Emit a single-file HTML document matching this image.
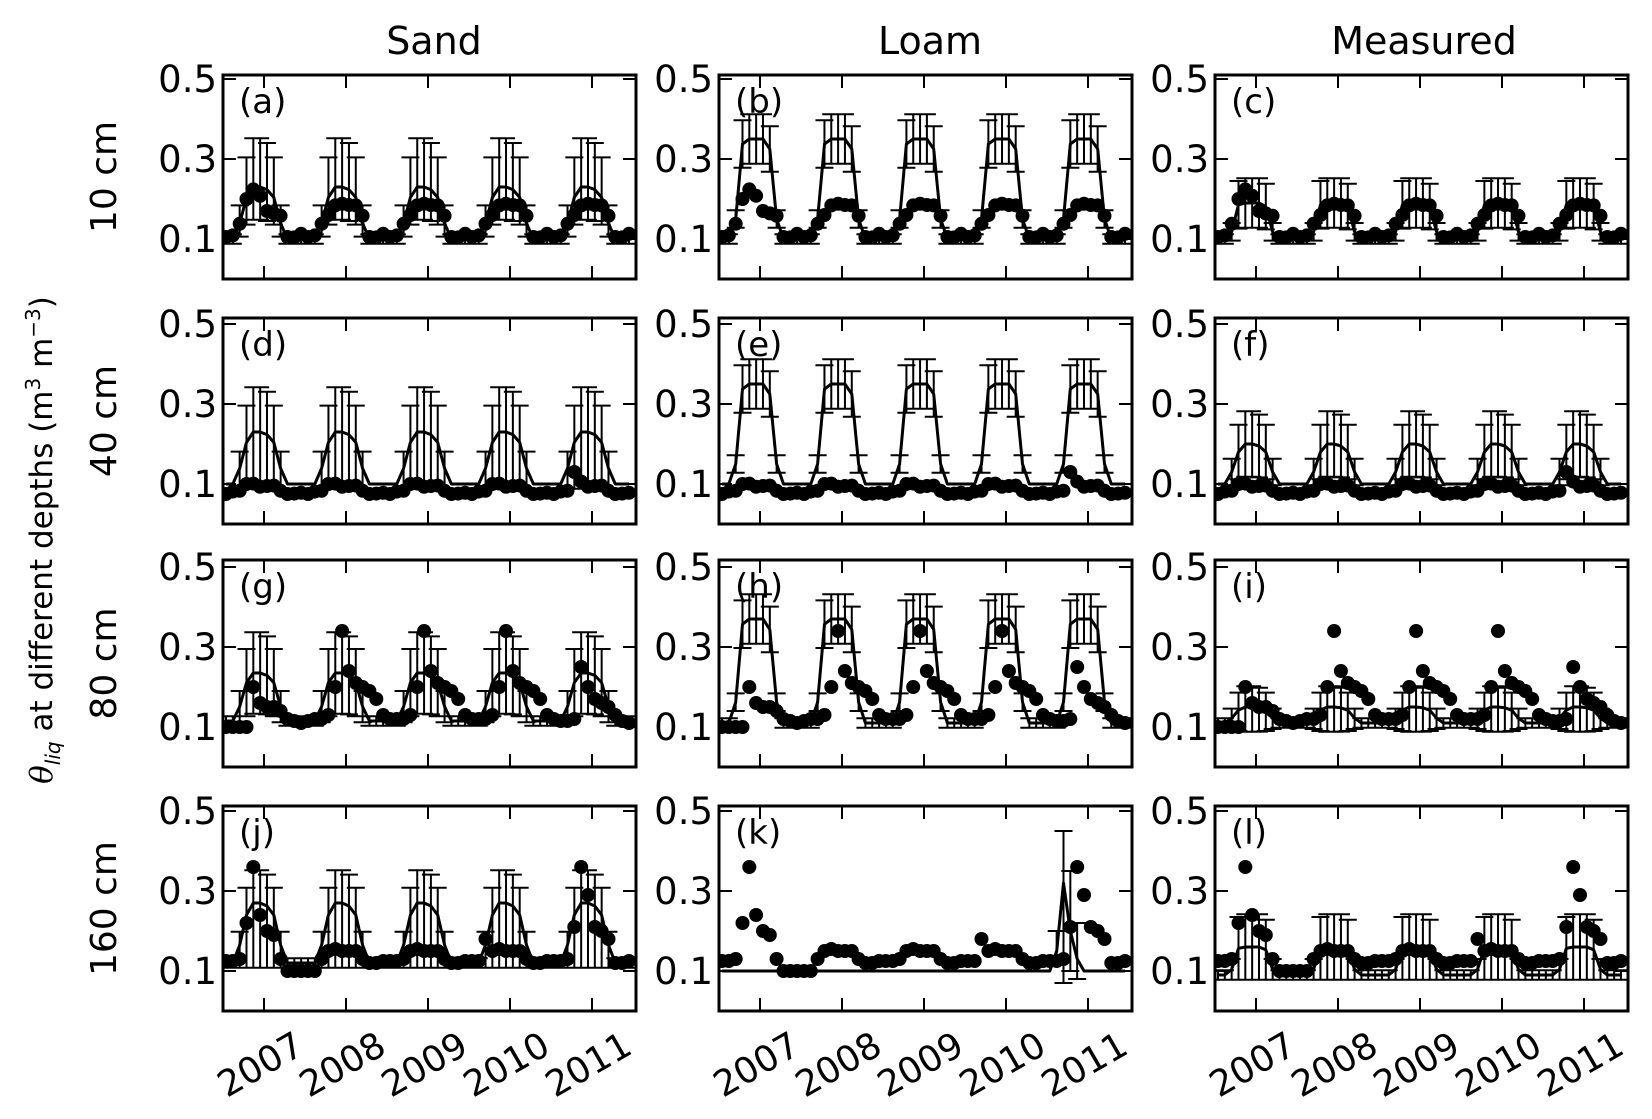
<!DOCTYPE html>
<html><head><meta charset="utf-8"><style>html,body{margin:0;padding:0;background:#fff}svg{display:block}text{font-family:"DejaVu Sans","Liberation Sans",sans-serif;fill:#000}</style></head>
<body>
<svg id="s" width="1652" height="1119" xmlns="http://www.w3.org/2000/svg"></svg>
<script>
const S=document.getElementById('s');let h='';
const cols=[223,719,1215],W=413;
const rows=[[75,279],[318,524],[560,767],[806,1011]];
const PX=400;
h+='<text x="434" y="54" font-size="38" text-anchor="middle">Sand</text>';
h+='<text x="930" y="54" font-size="38" text-anchor="middle">Loam</text>';
h+='<text x="1424" y="54" font-size="38" text-anchor="middle">Measured</text>';
const rl=['10 cm','40 cm','80 cm','160 cm'];
rows.forEach((r,i)=>{const cy=(r[0]+r[1])/2;h+=`<text transform="translate(116,${cy}) rotate(-90)" font-size="36" text-anchor="middle">${rl[i]}</text>`;});
h+=`<text transform="translate(52,540) rotate(-90)" font-size="31" text-anchor="middle"><tspan font-style="italic" font-family="DejaVu Serif,serif">θ</tspan><tspan font-size="20" dy="8" font-style="italic">liq</tspan><tspan dy="-8"> at different depths (m</tspan><tspan font-size="20" dy="-12">3</tspan><tspan dy="12"> m</tspan><tspan font-size="20" dy="-12">−3</tspan><tspan dy="12">)</tspan></text>`;
function hump(p){return [0,0,0.3,0.8,1,1,0.95,0.8,0.3,0,0,0][p];}
function plat(p){return [0,0,0.2,0.95,1,1,1,0.9,0.2,0,0,0][p];}
function circ(row,m){const p=m%12,y=Math.floor(m/12);
 if(row==0){const w=[.105,.105,.13,.16,.18,.18,.185,.18,.15,.105,.1,.105][p];let v=w;if(y==0&&p>=3&&p<=7)v=[.2,.22,.2,.17,.16][p-3];return v+((m*7)%3)*0.004;}
 if(row==1){let v=[.075,.075,.08,.1,.095,.09,.095,.09,.08,.075,.07,.075][p];if(y==4&&p==3)v=.13;if(y==4&&p==4)v=.1;return v+((m*5)%3)*0.003;}
 if(row==2){const mm=m-1;if(mm<0)return .1;const q=mm%12,yy=Math.floor(mm/12);
  let v=[.115,.115,.12,.2,.16,.15,.15,.14,.12,.115,.11,.115][q];if(yy>=1&&yy<=3){v=[.12,.12,.13,.2,.34,.24,.21,.2,.19,.17,.13,.12][q];}if(yy==0&&q<3)v=.1;if(yy==4&&q>=3&&q<=8)v=[.25,.2,.17,.16,.15,.13][q-3];return v;}
 let v=[.125,.125,.13,.15,.155,.15,.15,.15,.13,.12,.12,.125][p];
 if(y==0&&p>=2){v=[.13,.22,.36,.24,.2,.19,.13,.1,.1,.1][p-2];}
 if(y==1&&p<2)v=.1;
 if(y==4&&p>=3&&p<=8)v=[.21,.36,.29,.21,.2,.18][p-3];
 if(y==3&&p==2)v=.18;
 return v;}
const P=[
 {b:.1,a:.13,f:hump,lo:.07,hi:.11},{b:.1,a:.25,f:plat,lo:.05,hi:.05},{b:.1,a:.09,f:plat,lo:.05,hi:.05},
 {b:.1,a:.13,f:hump,lo:.13,hi:.1},{b:.1,a:.25,f:plat,lo:.05,hi:.05},{b:.1,a:.1,f:hump,lo:.07,hi:.07},
 {b:.115,a:.12,f:hump,lo:.09,hi:.09},{b:.11,a:.26,f:plat,lo:.05,hi:.05},{b:.11,a:.04,f:hump,lo:.05,hi:.04},
 {b:.12,a:.15,f:hump,lo:.15,hi:.07},{k:1},{b:.09,a:.07,f:plat,lo:.07,hi:.07}];
const L='abcdefghijkl';let id=0;
rows.forEach((r,ri)=>cols.forEach((x0,ci)=>{
 const y0=r[0],y1=r[1],Y=v=>y1-v*PX,X=m=>x0+3+m*6.83,pr=P[ri*3+ci];id++;
 h+=`<clipPath id="c${id}"><rect x="${x0}" y="${y0}" width="${W}" height="${y1-y0}"/></clipPath><g clip-path="url(#c${id})">`;
 let pts=[],bars='';
 for(let m=0;m<60;m++){let v,lo,hi;
  if(pr.k){v=.1;lo=hi=null;const sp={49:[.15,.12,.2],50:[.32,.07,.45],51:[.2,.1,.35],52:[.13,.08,.22]};if(sp[m]){v=sp[m][0];lo=sp[m][1];hi=sp[m][2];}}
  else{const s=pr.f(m%12);v=pr.b+pr.a*s;lo=v-pr.lo*s-0.012;hi=v+pr.hi*s+0.012;if(s==0&&ri==1){lo=null;}}
  pts.push(X(m).toFixed(1)+','+Y(v).toFixed(1));
  if(lo!=null){const x=X(m);bars+=`M${x},${Y(lo)}V${Y(hi)}M${x-9},${Y(lo)}h18M${x-9},${Y(hi)}h18`;}}
 h+=`<path d="${bars}" stroke="#000" stroke-width="2" fill="none"/>`;
 h+=`<polyline points="${pts.join(' ')}" stroke="#000" stroke-width="3" fill="none" stroke-linejoin="round"/>`;
 for(let m=0;m<60;m++){h+=`<circle cx="${X(m).toFixed(1)}" cy="${Y(circ(ri,m)).toFixed(1)}" r="7"/>`;}
 h+='</g>';
 h+=`<rect x="${x0}" y="${y0}" width="${W}" height="${y1-y0}" fill="none" stroke="#000" stroke-width="3"/>`;
 let t='';for(let k=0;k<5;k++){const x=x0+41+82*k;t+=`M${x},${y0}v13M${x},${y1}v-13`;}
 [.1,.3,.5].forEach(v=>{t+=`M${x0},${Y(v)}h13M${x0+W},${Y(v)}h-13`;h+=`<text x="${x0-6}" y="${Y(v)+13}" font-size="37" text-anchor="end">${v}</text>`;});
 h+=`<path d="${t}" stroke="#000" stroke-width="2"/>`;
 h+=`<text x="${x0+16}" y="${y0+38}" font-size="34">(${L[ri*3+ci]})</text>`;
 if(ri==3){for(let k=0;k<5;k++){const x=x0+41+82*k;h+=`<text transform="translate(${x-4},1064) rotate(-30)" font-size="36" text-anchor="middle" dy="13">${2007+k}</text>`;}}
}));
S.innerHTML=h;
</script>
</body></html>
